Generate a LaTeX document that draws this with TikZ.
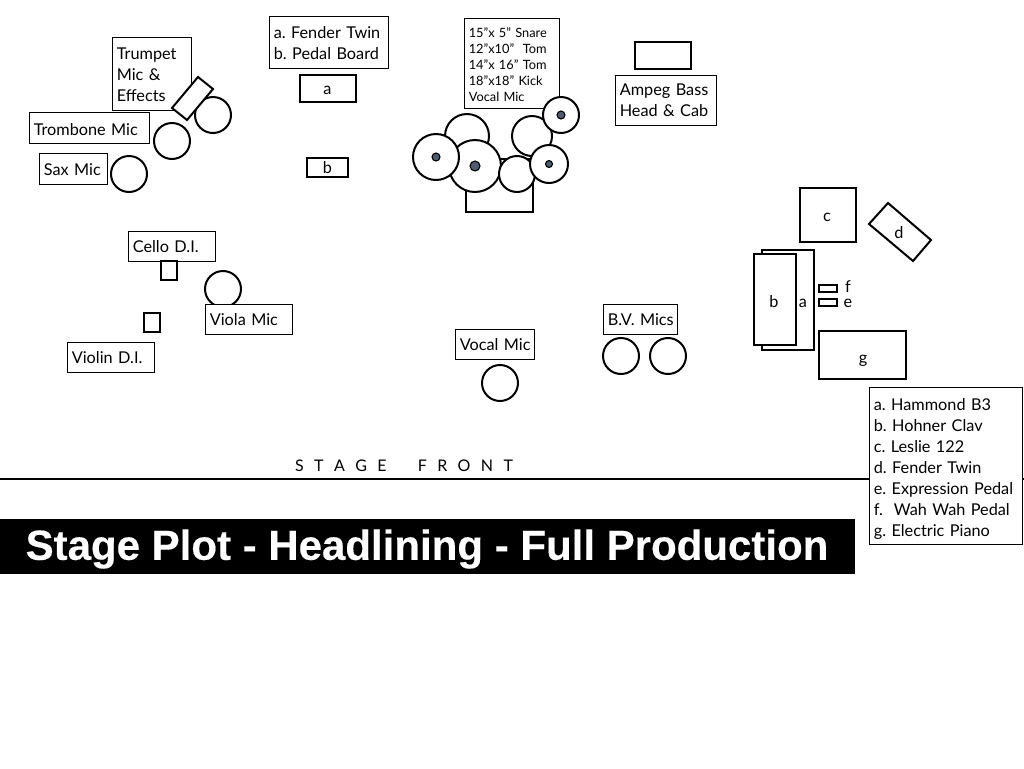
\documentclass[tikz,border=0pt]{standalone}
\usepackage{fontspec}
\setmainfont{Lato}[WordSpace=0.8]
\newfontfamily\titlefont{Liberation Sans}[FakeBold=0.35]
\newcommand{\lsp}{\hspace{7.8pt}}
\frenchspacing
\definecolor{dotblue}{HTML}{4D5A70}
\tikzset{
  x=0.75pt,y=-0.75pt,
  labelbox/.style={draw=black,line width=0.7pt,fill=white,rectangle,inner sep=0pt},
  labeltext/.style={align=left,inner sep=0pt,font=\fontsize{12.2}{15.75}\selectfont},
  smalltext/.style={labeltext,font=\fontsize{9.6}{12}\selectfont},
  gear/.style={draw=black,line width=1.5pt,fill=white,rectangle,inner sep=0pt},
  gearpoly/.style={draw=black,line width=1.5pt,fill=white,line join=miter},
  mic/.style={draw=black,line width=1.5pt,fill=white,circle,inner sep=0pt},
  dot/.style={draw=black,line width=0.8pt,fill=dotblue,circle,inner sep=0pt},
  tag/.style={inner sep=0pt,anchor=base,font=\fontsize{12.2}{15}\selectfont},
  titletext/.style={inner sep=0pt,text=white,font=\titlefont\bfseries\fontsize{31.5}{36}\selectfont},
}
% name, x1, y1, x2, y2, style
\newcommand{\rectnode}[6]{%
  \pgfmathsetmacro{\rcx}{(#2+#4)/2}\pgfmathsetmacro{\rcy}{(#3+#5)/2}%
  \pgfmathsetmacro{\rcw}{(#4-#2)*0.75}\pgfmathsetmacro{\rch}{(#5-#3)*0.75}%
  \node[#6,minimum width=\rcw pt,minimum height=\rch pt] (#1) at (\rcx,\rcy) {};%
}
% name, x1, y1, x2, y2, text style, vertical shift of text in px, text
\newcommand{\textrect}[8]{%
  \rectnode{#1}{#2}{#3}{#4}{#5}{labelbox}%
  \pgfmathsetmacro{\rcty}{(#3+#5)/2+#7}\pgfmathsetmacro{\rctw}{(#4-#2)*0.75-7.2}%
  \node[#6,text width=\rctw pt] (#1text) at (\rcx,\rcty) {#8};%
}
\newcommand{\micnode}[4]{%
  \pgfmathsetmacro{\rcd}{#4*1.5}%
  \node[mic,minimum size=\rcd pt] (#1) at (#2,#3) {};%
}
\newcommand{\dotnode}[4]{%
  \pgfmathsetmacro{\rcd}{#4*1.5}%
  \node[dot,minimum size=\rcd pt] (#1) at (#2,#3) {};%
}
\begin{document}
\begin{tikzpicture}
\useasboundingbox (0,0) rectangle (1024,768);
\draw[line width=1.9pt] (0,479) -- (1024,479);
\node[inner sep=0pt,font=\fontsize{12}{14}\selectfont] (front) at (404,466) {S\lsp T\lsp A\lsp G\lsp E\lsp\lsp\lsp F\lsp R\lsp O\lsp N\lsp T};
\rectnode{titlebar}{0}{519}{855}{574}{fill=black,inner sep=0pt}
\node[titletext] (titlelabel) at (427,549) {Stage Plot - Headlining - Full Production};
\textrect{trumpet}{112}{37}{191}{110}{labeltext}{1.2}{\mbox{Trumpet}\\Mic \&\\Effects}
\textrect{trombone}{29}{112}{149}{143}{labeltext}{2}{\mbox{Trombone Mic}}
\textrect{sax}{39}{153}{107}{184}{labeltext}{1.5}{\mbox{Sax Mic}}
\micnode{mictr}{213}{115}{18}
\draw[gearpoly] (198,77) -- (213,89) -- (187,120) -- (172,108) -- cycle;
\micnode{mictb}{172}{141}{18}
\micnode{micsx}{129}{174}{18}
\textrect{fender}{269}{16}{388}{68}{labeltext}{1}{\mbox{a. Fender Twin}\\\mbox{b. Pedal Board}}
\rectnode{gta}{300}{75}{356}{102}{gear}
\node[tag] (gtatag) at (327.5,94) {a};
\rectnode{gtb}{307}{158}{348}{177}{gear}
\node[tag] (gtbtag) at (327.5,173) {b};
\textrect{drumkey}{464}{18}{559}{108}{smalltext}{1.5}{\mbox{15"x 5" Snare}\\\mbox{12"x10"~ Tom}\\\mbox{14"x 16" Tom}\\\mbox{18"x18" Kick}\\\mbox{Vocal Mic}}
\rectnode{riser}{466}{159}{533}{212}{gear}
\micnode{tomL}{467}{136}{22}
\micnode{tomR}{532}{136}{20}
\micnode{kick}{475}{166}{26}
\micnode{floor}{436}{157}{23}
\micnode{snare}{517}{174}{18}
\micnode{vocal}{561}{115}{18}
\micnode{hat}{549}{164}{19}
\dotnode{dkick}{475}{166}{5}
\dotnode{dfloor}{436}{157}{4}
\dotnode{dvocal}{561}{115}{4}
\dotnode{dhat}{549}{164}{3.5}
\rectnode{basscab}{635}{42}{691}{69}{gear}
\textrect{ampeg}{615}{75}{716}{125}{labeltext}{0}{\mbox{Ampeg Bass}\\\mbox{Head \& Cab}}
\textrect{cello}{128}{231}{215}{261}{labeltext}{1}{\mbox{Cello D.I.}}
\rectnode{cellodi}{161}{261}{177}{280}{gear}
\micnode{micvl}{223}{289}{18}
\textrect{viola}{205}{304}{292}{334}{labeltext}{1}{\mbox{Viola Mic}}
\rectnode{violindi}{144}{313}{160}{332}{gear}
\textrect{violin}{67}{342}{154}{372}{labeltext}{1}{\mbox{Violin D.I.}}
\textrect{vmic}{455}{329}{534}{359}{labeltext}{1}{\mbox{Vocal Mic}}
\micnode{micv}{500}{383}{18}
\textrect{bv}{603}{304}{677}{334}{labeltext}{1}{\mbox{B.V. Mics}}
\micnode{micb}{621}{356}{18}
\micnode{micc}{668}{356}{18}
\rectnode{leslie}{800}{188}{856}{242}{gear}
\node[tag] (ctag) at (827,221) {c};
\draw[gearpoly] (888,203) -- (931,240) -- (913,261) -- (869,224) -- cycle;
\node[tag] (dtag) at (899,238) {d};
\rectnode{hammond}{762}{250}{814}{350}{gear}
\node[tag] (atag) at (803,307) {a};
\rectnode{clav}{754}{254}{796}{345}{gear}
\node[tag] (btag) at (774,307) {b};
\rectnode{wah}{819}{285}{837}{292}{gear}
\rectnode{expr}{819}{299}{837}{306}{gear}
\node[tag] (ftag) at (848,292) {f};
\node[tag] (etag) at (848,307) {e};
\rectnode{epiano}{819}{331}{906}{379}{gear}
\node[tag] (gtag) at (863,363) {g};
\textrect{legend}{869}{387}{1022}{544}{labeltext}{3}{\mbox{a. Hammond B3}\\\mbox{b. Hohner Clav}\\\mbox{c. Leslie 122}\\\mbox{d. Fender Twin}\\\mbox{e. Expression Pedal}\\\mbox{f.~ Wah Wah Pedal}\\\mbox{g. Electric Piano}}
\end{tikzpicture}
\end{document}
